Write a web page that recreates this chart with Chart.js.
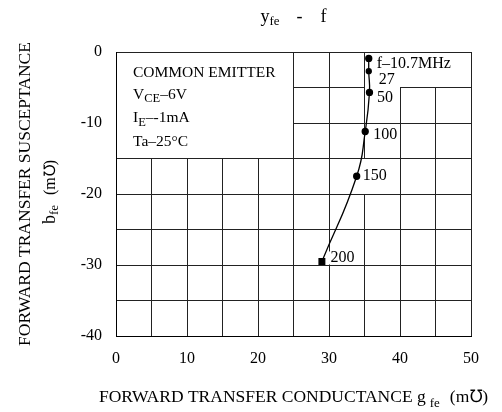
<!DOCTYPE html>
<html>
<head>
<meta charset="utf-8">
<script src="https://cdn.jsdelivr.net/npm/chart.js@4.4.1/dist/chart.umd.min.js"></script>
<style>
  html, body { margin: 0; padding: 0; background: #fff; }
  #yfeChart { display: block; }
</style>
</head>
<body>
<canvas id="yfeChart" width="502" height="412"></canvas>
<script>
// frequency points (MHz) and the measured y-parameters
const freqLabels = ['f–10.7MHz', '27', '50', '100', '150', '200'];
const gfe = [35.6, 35.6, 35.7, 35.1, 33.9, 29.0];
const bfe = [-0.9, -2.7, -5.7, -11.2, -17.5, -29.5];

// tick labels
const xTicks = [0, 10, 20, 30, 40, 50];
const yTicks = [0, -10, -20, -30, -40];

// test conditions, [text, subscript?]
const conditions = [
  [['COMMON EMITTER', false]],
  [['V', false], ['CE', true], ['–6V', false]],
  [['I', false], ['E', true], ['–-1mA', false]],
  [['Ta–25°C', false]],
];

const FONT = '"Liberation Serif", "Times New Roman", serif';

// write a run of text pieces, optionally rotated for the y title
function drawRun(ctx, parts, x, y, center, rotate) {
  ctx.save();
  ctx.translate(x, y);
  if (rotate) ctx.rotate(-Math.PI / 2);
  ctx.fillStyle = '#000';
  ctx.textAlign = 'left';
  ctx.textBaseline = 'alphabetic';
  let w = 0;
  parts.forEach(p => {
    ctx.font = p.size + 'px ' + FONT;
    w += (p.gap || 0) + ctx.measureText(p.t).width;
  });
  let cx = center ? -w / 2 : 0;
  parts.forEach(p => {
    ctx.font = p.size + 'px ' + FONT;
    cx += p.gap || 0;
    ctx.fillText(p.t, cx, p.drop || 0);
    cx += ctx.measureText(p.t).width;
  });
  ctx.restore();
}

const alignPx = p => Math.round(p - 0.5) + 0.5;

// white patches over the grid, like the original sheet
const gridMasks = {
  id: 'gridMasks',
  beforeDatasetsDraw(chart) {
    const { ctx, scales: { x, y } } = chart;
    const masks = [
      { x0: 0, x1: 25, y0: 0, y1: -15, px: 0.5, py: 0.5 },   // conditions box
      { x0: 35, x1: 50, y0: 0, y1: -5, px: 0.5, py: 0.5 },   // f label area
      { x0: 35, x1: 40, y0: -5, y1: -5, px: 0.5, py: -1.5 },
      { x0: 35, x1: 35, y0: -15, y1: -20, px: -1.5, py: 0.5 },
    ];
    ctx.save();
    ctx.fillStyle = '#fff';
    masks.forEach(m => {
      const l = alignPx(x.getPixelForValue(m.x0)) + m.px;
      const r = alignPx(x.getPixelForValue(m.x1)) - m.px;
      const t = alignPx(y.getPixelForValue(m.y0)) + m.py;
      const b = alignPx(y.getPixelForValue(m.y1)) - m.py;
      ctx.fillRect(l, t, r - l, b - t);
    });
    // blank out grid behind the 200 label
    const pts = chart.getDatasetMeta(0).data;
    const p = pts[5];
    ctx.font = '16px ' + FONT;
    const w = ctx.measureText(freqLabels[5]).width;
    ctx.fillRect(p.x + 5, p.y - 10, w + 4, 13);

    // conditions text
    const left = x.getPixelForValue(0) + 17;
    const top = y.getPixelForValue(0);
    const base = [24.5, 46.5, 70, 94];
    conditions.forEach((line, i) => {
      drawRun(ctx, line.map(([t, sub]) => ({ t, size: sub ? 12.5 : 15.5, drop: sub ? 3.5 : 0 })),
        left, top + base[i], false, false);
    });
    ctx.restore();
  },
  afterDatasetsDraw(chart) {
    const { ctx } = chart;
    const pts = chart.getDatasetMeta(0).data;
    const offs = [[8, 9.5], [10, 12.5], [7.5, 9.5], [8, 7], [6, 3.5], [8.5, 1]];
    pts.forEach((p, i) => {
      drawRun(ctx, [{ t: freqLabels[i], size: 16 }], p.x + offs[i][0], p.y + offs[i][1], false, false);
    });
  },
  afterDraw(chart) {
    const { ctx, chartArea: a } = chart;
    const cx = (a.left + a.right) / 2;
    const cy = (a.top + a.bottom) / 2;
    // title
    drawRun(ctx, [
      { t: 'y', size: 18 },
      { t: 'fe', size: 13, drop: 2.5 },
      { t: '-', size: 18, gap: 17 },
      { t: 'f', size: 18, gap: 18 },
    ], cx, 22, true, false);
    // x title
    drawRun(ctx, [
      { t: 'FORWARD TRANSFER CONDUCTANCE g', size: 17.5 },
      { t: 'fe', size: 13, drop: 5, gap: 4 },
      { t: '(m℧)', size: 17.5, gap: 10 },
    ], cx, 401.5, true, false);
    // y title, two rotated lines
    drawRun(ctx, [{ t: 'FORWARD TRANSFER SUSCEPTANCE', size: 17.5 }], 29.5, cy, true, true);
    drawRun(ctx, [
      { t: 'b', size: 18 },
      { t: 'fe', size: 13, drop: 3 },
      { t: '(m℧)', size: 16, gap: 10 },
    ], 54.5, cy - 2, true, true);
  }
};

const ctx = document.getElementById('yfeChart').getContext('2d');
new Chart(ctx, {
  type: 'scatter',
  data: {
    datasets: [{
      data: gfe.map((g, i) => ({ x: g, y: bfe[i] })),
      showLine: true,
      tension: 0.5,
      borderColor: '#000',
      borderWidth: 1.3,
      backgroundColor: '#000',
      pointBackgroundColor: '#000',
      pointBorderColor: '#000',
      pointRadius: [3, 2.5, 3, 3, 3, 4],
      pointStyle: ['circle', 'circle', 'circle', 'circle', 'circle', 'rect'],
    }],
  },
  options: {
    responsive: false,
    animation: false,
    events: [],
    layout: { padding: { left: 56, right: 31, top: 52, bottom: 36 } },
    plugins: {
      legend: { display: false },
      tooltip: { enabled: false },
      title: { display: false },
    },
    scales: {
      x: {
        type: 'linear',
        position: 'bottom',
        min: 0,
        max: 50,
        ticks: {
          stepSize: 5,
          padding: 13,
          color: '#000',
          maxRotation: 0,
          autoSkip: false,
          font: { family: FONT, size: 16 },
          callback: v => (xTicks.includes(v) ? String(v) : ''),
        },
        grid: { color: '#222', lineWidth: 1, drawTicks: false },
        border: { color: '#000', width: 1 },
        afterFit: s => { s.height = 40; s.paddingLeft = 0; s.paddingRight = 0; },
      },
      y: {
        type: 'linear',
        min: -40,
        max: 0,
        ticks: {
          stepSize: 5,
          padding: 14,
          color: '#000',
          autoSkip: false,
          font: { family: FONT, size: 16 },
          callback: v => (yTicks.includes(v) ? String(v) : ''),
        },
        grid: { color: '#222', lineWidth: 1, drawTicks: false },
        border: { color: '#000', width: 1 },
        afterFit: s => { s.width = 60; s.paddingTop = 0; s.paddingBottom = 0; },
      },
    },
  },
  plugins: [gridMasks],
});
</script>
</body>
</html>
